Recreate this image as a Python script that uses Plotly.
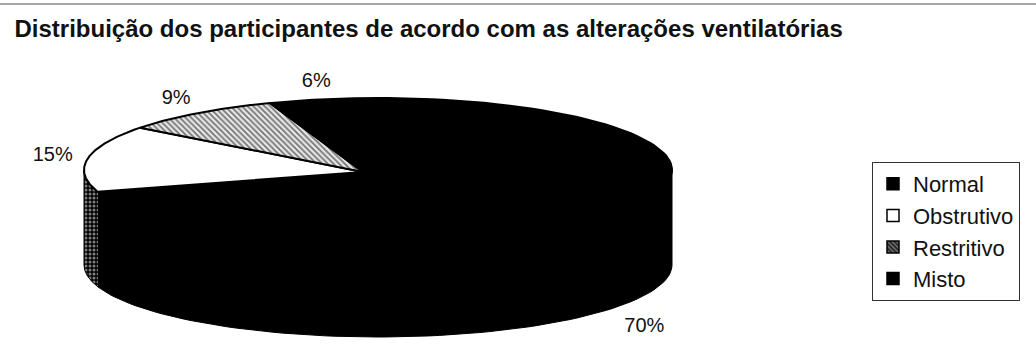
import numpy as np
import plotly.graph_objects as go

# ---- data ----
categories = ["Normal", "Obstrutivo", "Restritivo", "Misto"]
values = [70, 15, 9, 6]
labels = ["70%", "15%", "9%", "6%"]

# ---- style ----
fills = ["#000000", "#ffffff", "#9a9a9a", "#000000"]
wall_fills = ["#000000", "#bdbdbd", "#555555", "#000000"]
patterns = ["", "", "\\", ""]
wall_patterns = ["", ".", "\\", ""]

W, H = 1036, 346
cx, cy = 378, 170          # ellipse centre (px)
rx, ry = 294, 72           # ellipse radii
apex_x, apex_y = 363, 172  # apparent apex of top face
depth = 95
FONT = "Arial, Liberation Sans, sans-serif"


def pt(theta_deg):
    t = np.radians(theta_deg)
    return cx + rx * np.sin(t), cy - ry * np.cos(t)


total = float(sum(values))
starts = np.cumsum([0] + values[:-1]) / total * 360.0
ends = np.cumsum(values) / total * 360.0

fig = go.Figure()

# side walls (visible front half: 90deg..270deg, clockwise from top)
for i, cat in enumerate(categories):
    a1, a2 = max(starts[i], 90.0), min(ends[i], 270.0)
    if a2 <= a1:
        continue
    th = np.linspace(a1, a2, 80)
    xs, ys = pt(th)
    px = np.concatenate([xs, xs[::-1], xs[:1]])
    py = np.concatenate([ys, ys[::-1] + depth, ys[:1]])
    fp = dict(shape=wall_patterns[i], fgcolor="#ffffff" if wall_patterns[i] == "." else "#000000",
              bgcolor="#000000" if wall_patterns[i] == "." else wall_fills[i],
              size=4, solidity=0.45) if wall_patterns[i] else None
    fig.add_trace(go.Scatter(
        x=px, y=py, mode="lines", fill="toself",
        fillcolor=wall_fills[i], fillpattern=fp,
        line=dict(color="#000000", width=1),
        showlegend=False, hoverinfo="skip"))

# top faces
for i, cat in enumerate(categories):
    th = np.linspace(starts[i], ends[i], 120)
    xs, ys = pt(th)
    px = np.concatenate([[apex_x], xs, [apex_x]])
    py = np.concatenate([[apex_y], ys, [apex_y]])
    fp = dict(shape=patterns[i], fgcolor="#000000", bgcolor="#e8e8e8",
              size=4, solidity=0.45) if patterns[i] else None
    fig.add_trace(go.Scatter(
        x=px, y=py, mode="lines", fill="toself",
        fillcolor=fills[i], fillpattern=fp,
        line=dict(color="#000000", width=2),
        showlegend=False, hoverinfo="skip"))

# legend entries
leg_pat = [None, None, dict(shape="\\", fgcolor="#dddddd", bgcolor="#222222", size=4, solidity=0.4), None]
for i, cat in enumerate(categories):
    fig.add_trace(go.Bar(
        x=[None], y=[None], name=cat,
        marker=dict(color=fills[i] if i != 2 else "#222222",
                    line=dict(color="#000000", width=1.5),
                    pattern=leg_pat[i])))

# percentage labels
mids = (starts + ends) / 2.0
lx, ly = [], []
for i, m in enumerate(mids):
    t = np.radians(m)
    x = cx + rx * 1.12 * np.sin(t)
    y = cy - ry * 1.25 * np.cos(t)
    if 90 < m < 270:
        y += depth + 9
    lx.append(x)
    ly.append(y)
fig.add_trace(go.Scatter(
    x=lx, y=ly, mode="text", text=labels,
    textfont=dict(family=FONT, size=20, color="#111111"),
    showlegend=False, hoverinfo="skip"))

fig.update_layout(
    width=W, height=H,
    margin=dict(l=0, r=0, t=0, b=0),
    paper_bgcolor="#ffffff", plot_bgcolor="#ffffff",
    title=dict(text="<b>Distribuição dos participantes de acordo com as alterações ventilatórias</b>",
               font=dict(family=FONT, size=24, color="#111111"),
               x=0.014, xanchor="left", y=1 - 29 / H, yanchor="middle",
               xref="paper", yref="container"),
    xaxis=dict(range=[0, W], visible=False, fixedrange=True),
    yaxis=dict(range=[H, 0], visible=False, fixedrange=True),
    legend=dict(x=872 / W, y=1 - 162 / H, xanchor="left", yanchor="top",
                font=dict(family=FONT, size=22, color="#111111"),
                bordercolor="#333333", borderwidth=1, bgcolor="#ffffff",
                itemwidth=30, tracegroupgap=0),
    shapes=[dict(type="line", xref="paper", yref="paper", x0=0, x1=1,
                 y0=1 - 4 / H, y1=1 - 4 / H, line=dict(color="#888888", width=1.5))],
)

fig.write_html("out.html")
